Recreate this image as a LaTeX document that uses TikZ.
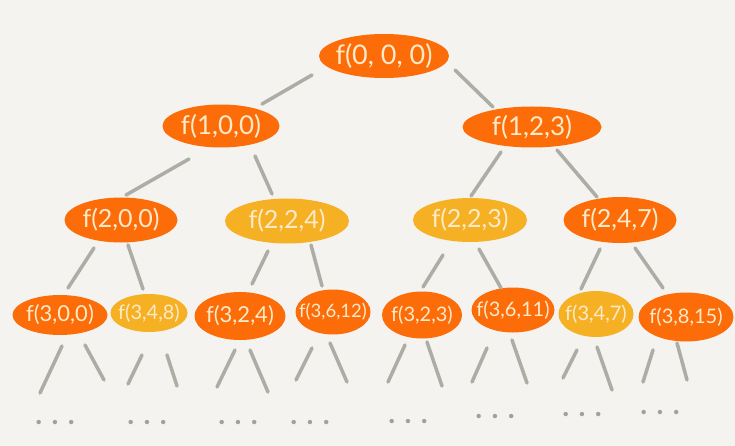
\documentclass[tikz,border=0pt]{standalone}
\usepackage{fontspec}
\setmainfont{Lato}
\usetikzlibrary{shapes.geometric,calc}
\definecolor{bg}{RGB}{244,243,239}
\definecolor{hotc}{RGB}{252,108,8}
\definecolor{warmc}{RGB}{246,176,36}
\definecolor{cream}{RGB}{252,234,200}
\definecolor{lineg}{RGB}{172,173,165}
\definecolor{dotg}{RGB}{160,161,153}
\newcommand{\lbl}[1]{\makebox[0pt][c]{#1}}
\begin{document}
\begin{tikzpicture}[x=1pt,y=-1pt,
  blob/.style={ellipse, inner sep=0pt, text=cream},
  hot/.style={blob, fill=hotc},
  warm/.style={blob, fill=warmc},
  lz/.style={font=\fontsize{27}{27}\selectfont},
  lo/.style={font=\fontsize{26}{26}\selectfont},
  lt/.style={font=\fontsize{25}{25}\selectfont},
  lh/.style={font=\fontsize{22}{22}\selectfont},
  lhs/.style={font=\fontsize{20}{20}\selectfont},
  lhx/.style={font=\fontsize{18.5}{18.5}\selectfont},
  edge/.style={draw=lineg, line width=3.5pt, line cap=round},
  dotsn/.style={text=dotg, inner sep=0pt, font=\fontsize{29}{29}\selectfont\bfseries}]
\fill[bg] (0,0) rectangle (735,446);
\useasboundingbox (0,0) rectangle (735,446);
% level 0
\node[hot,lz,minimum width=130pt,minimum height=44pt] (n000) at (384,56) {\lbl{f(0, 0, 0)}};
% level 1
\node[hot,lo,minimum width=117pt,minimum height=43pt] (n100) at (221,126) {\lbl{f(1,0,0)}};
\node[hot,lo,minimum width=139pt,minimum height=41pt] (n123) at (532,127) {\lbl{f(1,2,3)}};
% level 2
\node[hot,lt,minimum width=113pt,minimum height=45pt] (n200) at (121,220) {\lbl{f(2,0,0)}};
\node[warm,lt,minimum width=124pt,minimum height=45pt] (n224) at (287,221) {\lbl{f(2,2,4)}};
\node[warm,lt,minimum width=114pt,minimum height=44pt] (n223) at (470,220) {\lbl{f(2,2,3)}};
\node[hot,lt,minimum width=113pt,minimum height=46pt] (n247) at (620,220) {\lbl{f(2,4,7)}};
% level 3
\node[hot,lh,minimum width=95pt,minimum height=40pt] (n300) at (60,315) {\lbl{f(3,0,0)}};
\node[warm,lhs,minimum width=77pt,minimum height=38pt] (n348) at (149,313) {\lbl{f(3,4,8)}};
\node[hot,lh,minimum width=91pt,minimum height=48pt] (n324) at (240,316) {\lbl{f(3,2,4)}};
\node[hot,lhx,minimum width=75pt,minimum height=45pt] (n3612) at (333,312) {\lbl{f(3,6,12)}};
\node[hot,lhs,minimum width=80pt,minimum height=47pt] (n323) at (422,315) {\lbl{f(3,2,3)}};
\node[hot,lhs,minimum width=83pt,minimum height=45pt] (n3611) at (513,310) {\lbl{f(3,6,11)}};
\node[warm,lhs,minimum width=75pt,minimum height=46pt] (n347) at (596,314) {\lbl{f(3,4,7)}};
\node[hot,lhs,minimum width=95pt,minimum height=49pt] (n3815) at (686,317) {\lbl{f(3,8,15)}};
% tree edges
\draw[edge] ($(n000)+(-72,19)$) -- ($(n100)+(41,-22)$);
\draw[edge] ($(n000)+(71,14)$) -- ($(n123)+(-39,-20)$);
\draw[edge] ($(n100)+(-32,33)$) -- ($(n200)+(5,-25)$);
\draw[edge] ($(n100)+(34,30)$) -- ($(n224)+(-15,-27)$);
\draw[edge] ($(n123)+(-31,25)$) -- ($(n223)+(1,-24)$);
\draw[edge] ($(n123)+(25,23)$) -- ($(n247)+(-23,-23)$);
\draw[edge] ($(n200)+(-27,28)$) -- ($(n300)+(8,-27)$);
\draw[edge] ($(n200)+(7,25)$) -- ($(n348)+(-6,-24)$);
\draw[edge] ($(n224)+(-19,30)$) -- ($(n324)+(12,-32)$);
\draw[edge] ($(n224)+(24,24)$) -- ($(n3612)+(-11,-26)$);
\draw[edge] ($(n223)+(-27,35)$) -- ($(n323)+(1,-28)$);
\draw[edge] ($(n223)+(9,29)$) -- ($(n3611)+(-12,-22)$);
\draw[edge] ($(n247)+(-20,29)$) -- ($(n347)+(-15,-25)$);
\draw[edge] ($(n247)+(15,28)$) -- ($(n3815)+(-23,-29)$);
% free ends of the leaf edges
\coordinate (a1) at (40,393);  \coordinate (b1) at (104,380);
\coordinate (a2) at (128,384); \coordinate (b2) at (177,386);
\coordinate (a3) at (217,387); \coordinate (b3) at (268,392);
\coordinate (a4) at (296,380); \coordinate (b4) at (347,382);
\coordinate (a5) at (388,382); \coordinate (b5) at (442,386);
\coordinate (a6) at (472,382); \coordinate (b6) at (527,383);
\coordinate (a7) at (563,378); \coordinate (b7) at (612,390);
\coordinate (a8) at (643,382); \coordinate (b8) at (687,380);
\draw[edge] ($(n300)+(2,31)$) -- (a1);
\draw[edge] ($(n300)+(25,30)$) -- (b1);
\draw[edge] ($(n348)+(-7,42)$) -- (a2);
\draw[edge] ($(n348)+(18,42)$) -- (b2);
\draw[edge] ($(n324)+(-5,34)$) -- (a3);
\draw[edge] ($(n324)+(10,34)$) -- (b3);
\draw[edge] ($(n3612)+(-21,36)$) -- (a4);
\draw[edge] ($(n3612)+(-3,31)$) -- (b4);
\draw[edge] ($(n323)+(-17,30)$) -- (a5);
\draw[edge] ($(n323)+(5,27)$) -- (b5);
\draw[edge] ($(n3611)+(-26,38)$) -- (a6);
\draw[edge] ($(n3611)+(-1,30)$) -- (b6);
\draw[edge] ($(n347)+(-19,36)$) -- (a7);
\draw[edge] ($(n347)+(1,33)$) -- (b7);
\draw[edge] ($(n3815)+(-33,33)$) -- (a8);
\draw[edge] ($(n3815)+(-9,26)$) -- (b8);
% ellipsis marks
\node[dotsn] (d1) at (55,423) {. . .};
\node[dotsn] (d2) at (147,423) {. . .};
\node[dotsn] (d3) at (238,423) {. . .};
\node[dotsn] (d4) at (310,423) {. . .};
\node[dotsn] (d5) at (408,422) {. . .};
\node[dotsn] (d6) at (495,417) {. . .};
\node[dotsn] (d7) at (582,415) {. . .};
\node[dotsn] (d8) at (660,413) {. . .};
\end{tikzpicture}
\end{document}
